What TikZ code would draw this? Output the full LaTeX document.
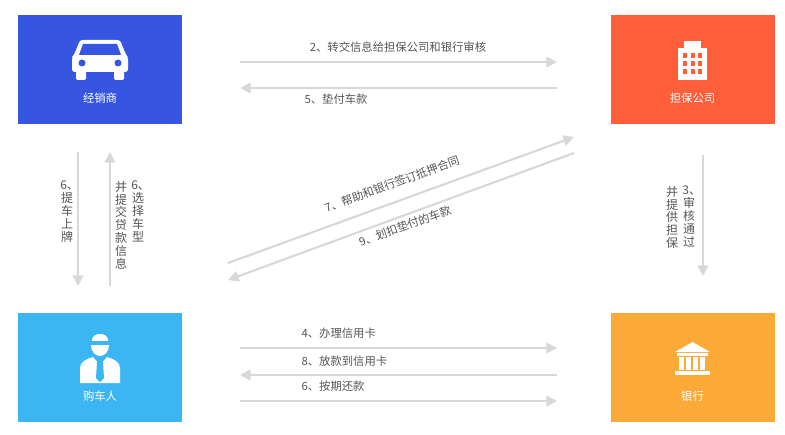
\documentclass[tikz,border=0pt]{standalone}
\usepackage{fontspec}
\setmainfont{Noto Sans CJK SC}
\usetikzlibrary{arrows.meta}
\definecolor{cblue}{HTML}{3656E2}
\definecolor{cred}{HTML}{FF5E3A}
\definecolor{clblue}{HTML}{3BB6F2}
\definecolor{corange}{HTML}{FBA937}
\definecolor{carr}{HTML}{D8D8D8}
\definecolor{ctxt}{HTML}{555555}
\begin{document}
\begin{tikzpicture}[x=0.75pt,y=-0.75pt,
  box/.style={minimum width=123pt,minimum height=82pt,inner sep=0pt},
  flow/.style={draw=carr,line width=1.6pt,-{Triangle[length=8pt,width=8pt]}},
  lab/.style={text=ctxt,font=\fontsize{8.5}{9}\selectfont,inner sep=1pt},
  vlab/.style={text=ctxt,font=\fontsize{9}{9.6}\selectfont,align=center,text width=10pt,inner sep=0pt,anchor=north},
  wt/.style={text=white,font=\fontsize{8.5}{10}\selectfont}]
\useasboundingbox (0,0) rectangle (785,435);
\node[box,fill=cblue] (d) at (100,69.5) {};
\node[box,fill=cred] (g) at (692.5,69.5) {};
\node[box,fill=clblue] (b) at (100,367.5) {};
\node[box,fill=corange] (k) at (692.5,367.5) {};
\node[wt] (dl) at (100,98) {经销商};
\node[wt] (gl) at (692.5,98) {担保公司};
\node[wt] (bl) at (100,396) {购车人};
\node[wt] (kl) at (692.5,396) {银行};
% car icon
\fill[white,rounded corners=2pt] (74,55) -- (80,40) -- (120,40) -- (126,55) -- (128,57) -- (128,72) -- (72,72) -- (72,57) -- cycle;
\fill[cblue] (83,44) -- (117,44) -- (121,55) -- (79,55) -- cycle;
\fill[cblue] (82,63) circle (3.5);
\fill[cblue] (118,63) circle (3.5);
\fill[white,rounded corners=1pt] (76,70) rectangle (86,80);
\fill[white,rounded corners=1pt] (114,70) rectangle (124,80);
% building icon
\fill[white] (678,48) rectangle (707,80);
\fill[white] (684,41) rectangle (701,48);
\foreach \yy in {53,61,69}{\foreach \xx in {683,690.5,698}{\fill[cred] (\xx,\yy) rectangle ++(4,5);}}
% person icon
\fill[white] (100,345) ellipse (9 and 11);
\fill[clblue] (91,341) rectangle (109,345);
\fill[white] (92,340) .. controls (92,332) and (108,332) .. (108,340) -- cycle;
\fill[white] (80,383) -- (80,368) .. controls (80,362) and (86,359) .. (93,357) -- (100,365) -- (107,357) .. controls (114,359) and (120,362) .. (120,368) -- (120,383) -- cycle;
\fill[clblue] (97,362) -- (103,362) -- (104,378) -- (100,382) -- (96,378) -- cycle;
% bank icon
\fill[white] (692.5,342) -- (710,352) -- (675,352) -- cycle;
\fill[white] (677,353) rectangle (708,356);
\foreach \xx in {679,686,693,700}{\fill[white] (\xx,357) rectangle ++(5,13);}
\fill[white] (675,371) rectangle (710,375);
% arrows
\coordinate (t1a) at (240,62); \coordinate (t1b) at (557,62);
\coordinate (t2a) at (557,88); \coordinate (t2b) at (240,88);
\draw[flow] (t1a) -- (t1b);
\draw[flow] (t2a) -- (t2b);
\node[lab] (l2) at (398,47) {2、转交信息给担保公司和银行审核};
\node[lab,anchor=west] (l5) at (303,99) {5、垫付车款};
\coordinate (v1a) at (78,152); \coordinate (v1b) at (78,286);
\coordinate (v2a) at (110,286); \coordinate (v2b) at (110,152);
\draw[flow] (v1a) -- (v1b);
\draw[flow] (v2a) -- (v2b);
\node[vlab] (l6a) at (67,181) {6、\\提\\车\\上\\牌};
\node[vlab] (l6b) at (138,181) {6、\\选\\择\\车\\型};
\node[vlab] (l6c) at (121,181) {并\\提\\交\\贷\\款\\信\\息};
\coordinate (v3a) at (703,155); \coordinate (v3b) at (703,276);
\draw[flow] (v3a) -- (v3b);
\node[vlab] (l3a) at (689,186) {3、\\审\\核\\通\\过};
\node[vlab] (l3b) at (672,186) {并\\提\\供\\担\\保};
\coordinate (d1a) at (228,263); \coordinate (d1b) at (574,137);
\coordinate (d2a) at (574,153); \coordinate (d2b) at (228,280);
\draw[flow] (d1a) -- (d1b);
\draw[flow] (d2a) -- (d2b);
\node[lab,rotate=20] (l7) at (392,184) {7、帮助和银行签订抵押合同};
\node[lab,rotate=20] (l9) at (405,226) {9、划扣垫付的车款};
\coordinate (b1a) at (240,348); \coordinate (b1b) at (557,348);
\coordinate (b2a) at (557,375); \coordinate (b2b) at (240,375);
\coordinate (b3a) at (240,401); \coordinate (b3b) at (557,401);
\draw[flow] (b1a) -- (b1b);
\draw[flow] (b2a) -- (b2b);
\draw[flow] (b3a) -- (b3b);
\node[lab,anchor=west] (l4) at (300,333) {4、办理信用卡};
\node[lab,anchor=west] (l8) at (300,361) {8、放款到信用卡};
\node[lab,anchor=west] (l6d) at (300,386) {6、按期还款};
\end{tikzpicture}
\end{document}
